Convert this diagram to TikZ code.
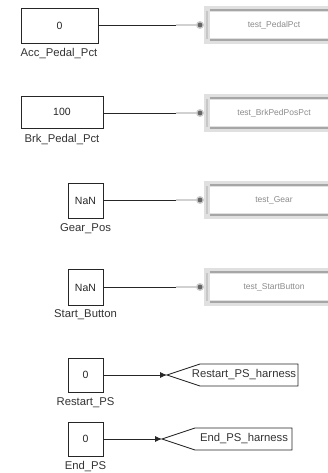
\documentclass[tikz,border=0pt]{standalone}
\usepackage{fontspec}
\setmainfont{Liberation Sans}
\usetikzlibrary{arrows.meta}
\tikzset{
  blk/.style={draw=black!85, line width=0.9pt, fill=white, inner sep=0pt},
  lbl/.style={font=\fontsize{11.3}{13}\selectfont, text=black!80, inner sep=0pt},
  num/.style={font=\fontsize{10.5}{12}\selectfont, text=black!85},
  wire/.style={draw=black!85, line width=0.8pt},
  fadewire/.style={draw=black!18, line width=1.6pt},
  tagbox/.style={draw=black!85, line width=0.9pt, fill=white},
  blurbox/.style={draw=black!12, line width=6pt, fill=white},
  blurline/.style={draw=black!35, line width=2.4pt},
  blurtext/.style={font=\fontsize{8.5}{9}\selectfont, text=black!45, inner sep=0pt},
  sig/.style={wire, -{Latex[length=7pt,width=6pt]}},
}
\begin{document}
\begin{tikzpicture}[x=1pt,y=-1pt]
\useasboundingbox (0,0) rectangle (328,473);
\fill[white] (0,0) rectangle (328,473);

% blurred targets (right, rows 1-4)
\foreach \yc/\txt in {25/test\_PedalPct, 113/test\_BrkPedPosPct, 200/test\_Gear, 287/test\_StartButton}{
  \draw[blurbox] (207,\yc-16) rectangle (340,\yc+16);
  \draw[blurline] (210,\yc-15) -- (340,\yc-15);
  \draw[blurline] (210,\yc+15) -- (340,\yc+15);
  \draw[black!22, line width=1.5pt] (207,\yc-14) -- (207,\yc+14);
  \node[blurtext] at (274,\yc) {\txt};
}

% source blocks
\node[blk, minimum width=77pt, minimum height=35pt] (b1) at (59.5,25.5) {};
\node[num] at (b1.center) {0};
\node[lbl] (l1) at (59,54) {Acc\_Pedal\_Pct};

\node[blk, minimum width=82pt, minimum height=32pt] (b2) at (62,112) {};
\node[num] at (b2.center) {100};
\node[lbl] (l2) at (62,140) {Brk\_Pedal\_Pct};

\node[blk, minimum width=35pt, minimum height=35pt] (b3) at (85.5,200.5) {};
\node[num] at (b3.center) {NaN};
\node[lbl] (l3) at (85.5,229) {Gear\_Pos};

\node[blk, minimum width=35pt, minimum height=36pt] (b4) at (85.5,287.5) {};
\node[num] at (b4.center) {NaN};
\node[lbl] (l4) at (85.5,315) {Start\_Button};

\node[blk, minimum width=35pt, minimum height=34pt] (b5) at (85.5,375) {};
\node[num] at (b5.center) {0};
\node[lbl] (l5) at (85.5,403) {Restart\_PS};

\node[blk, minimum width=35pt, minimum height=34pt] (b6) at (85.5,439) {};
\node[num] at (b6.center) {0};
\node[lbl] (l6) at (85.5,467) {End\_PS};

% wires to blurred targets
\foreach \b/\yc in {b1/25, b2/113, b3/200, b4/287}{
  \coordinate (m\b) at (176,\yc);
  \coordinate (e\b) at (203,\yc);
  \draw[wire] (\b.east |- m\b) -- (m\b);
  \draw[fadewire] (m\b) -- (e\b);
  \fill[black!20] (200,\yc) circle (4pt);
  \fill[black!60] (200,\yc) circle (2.4pt);
}

% goto tags
\coordinate (tip5) at (167,375);
\draw[tagbox] (tip5) -- (200,364) -- (298,364) -- (298,386) -- (200,386) -- cycle;
\node[lbl] (t5) at (244,375) {Restart\_PS\_harness};
\draw[sig] (b5.east) -- (tip5);

\coordinate (tip6) at (162,439);
\draw[tagbox] (tip6) -- (195,428) -- (292,428) -- (292,450) -- (195,450) -- cycle;
\node[lbl] (t6) at (244,439) {End\_PS\_harness};
\draw[sig] (b6.east) -- (tip6);
\end{tikzpicture}
\end{document}
